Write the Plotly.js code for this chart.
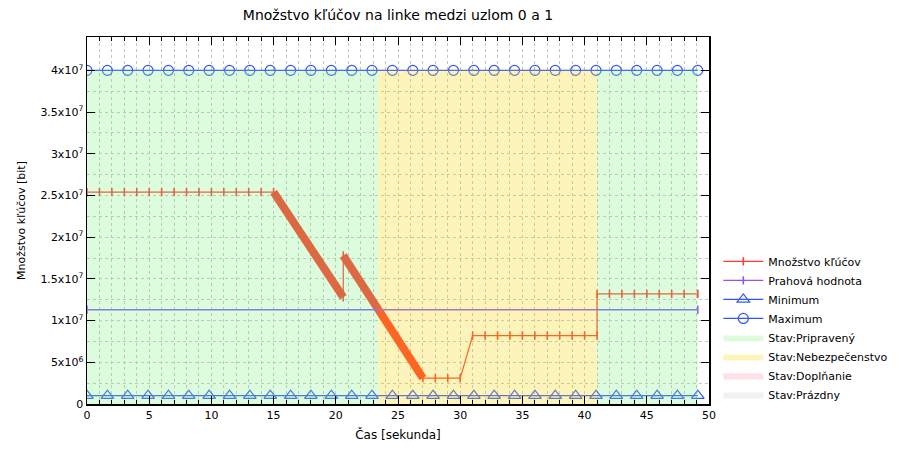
<!DOCTYPE html>
<html>
<head>
<meta charset="utf-8">
<script src="https://cdn.plot.ly/plotly-3.0.1.min.js"></script>
<style>html,body{margin:0;padding:0;background:#fff;}#chart{width:923px;height:455px;}</style>
</head>
<body>
<div id="chart"></div>
<script>
// ---- data ----
const keyTime = [0,1,2,3,4,5,6,7,8,9,10,11,12,13,14,15,20.6,20.6,27,28,29,30,31,32,33,34,35,36,37,38,39,40,41,41,42,43,44,45,46,47,48,49.1];
const keyBits = [25.4e6,25.4e6,25.4e6,25.4e6,25.4e6,25.4e6,25.4e6,25.4e6,25.4e6,25.4e6,25.4e6,25.4e6,25.4e6,25.4e6,25.4e6,25.4e6,12.8e6,17.8e6,3.1e6,3.1e6,3.1e6,3.1e6,8.2e6,8.2e6,8.2e6,8.2e6,8.2e6,8.2e6,8.2e6,8.2e6,8.2e6,8.2e6,8.2e6,13.2e6,13.2e6,13.2e6,13.2e6,13.2e6,13.2e6,13.2e6,13.2e6,13.2e6];
// indices of the fast-consumption runs (drawn thick: densely sampled in the source)
const fastRuns = [[15,16],[17,18]];

const thresholdTime = [0,49.1];
const thresholdBits = [11.3e6,11.3e6];

const limitTime = [0,1.64,3.27,4.91,6.55,8.18,9.82,11.46,13.09,14.73,16.37,18.0,19.64,21.28,22.91,24.55,26.19,27.82,29.46,31.1,32.73,34.37,36.01,37.64,39.28,40.92,42.55,44.19,45.83,47.46,49.1];
const minimumBits = 1.0e6;
const maximumBits = 40e6;

// states: [name, start, end]
const stateNames = ["Stav:Pripravený","Stav:Nebezpečenstvo","Stav:Doplňanie","Stav:Prázdny"];
const stateIntervals = [
  ["Stav:Pripravený",0,23.4],
  ["Stav:Nebezpečenstvo",23.4,41.0],
  ["Stav:Pripravený",41.0,49.1]
];

const yTickVals = [0,5e6,10e6,15e6,20e6,25e6,30e6,35e6,40e6];
const yTickText = ["0","5x10<sup>6</sup>","1x10<sup>7</sup>","1.5x10<sup>7</sup>","2x10<sup>7</sup>","2.5x10<sup>7</sup>","3x10<sup>7</sup>","3.5x10<sup>7</sup>","4x10<sup>7</sup>"];
const yGridMinor = [2.5e6,7.5e6,12.5e6,17.5e6,22.5e6,27.5e6,32.5e6,37.5e6];
const xTickVals = [0,5,10,15,20,25,30,35,40,45,50];

// ---- styles ----
const RED = '#ff3c30', PURPLE = '#8f55ff', BLUE = '#3355ff';
const stateFill = {
  "Stav:Pripravený": 'rgba(120,240,120,0.25)',
  "Stav:Nebezpečenstvo": 'rgba(245,215,0,0.27)',
  "Stav:Doplňanie": 'rgba(250,120,140,0.22)',
  "Stav:Prázdny": 'rgba(190,190,190,0.22)'
};
const FONT = 'DejaVu Sans, Verdana, sans-serif';
const GRID = '#c4c4c4';

const traces = [];
traces.push({
  x: keyTime, y: keyBits, type: 'scatter', mode: 'lines+markers', name: 'Množstvo kľúčov',
  line: {color: RED, width: 1.2},
  marker: {symbol: 'line-ns', size: 6, color: RED, line: {color: RED, width: 1.6}},
  legendrank: 1
});
fastRuns.forEach(r => {
  traces.push({
    x: [keyTime[r[0]], keyTime[r[1]]], y: [keyBits[r[0]], keyBits[r[1]]],
    type: 'scatter', mode: 'lines', showlegend: false, hoverinfo: 'skip',
    line: {color: RED, width: 8}
  });
});
traces.push({
  x: thresholdTime, y: thresholdBits, type: 'scatter', mode: 'lines+markers', name: 'Prahová hodnota',
  line: {color: PURPLE, width: 1.3},
  marker: {symbol: 'line-ns', size: 6, color: PURPLE, line: {color: PURPLE, width: 1.6}},
  legendrank: 2
});
traces.push({
  x: limitTime, y: limitTime.map(() => minimumBits), type: 'scatter', mode: 'lines+markers', name: 'Minimum',
  line: {color: BLUE, width: 1.2},
  marker: {symbol: 'triangle-up-open', size: 11, color: BLUE, line: {color: BLUE, width: 1.2}},
  legendrank: 3
});
traces.push({
  x: limitTime, y: limitTime.map(() => maximumBits), type: 'scatter', mode: 'lines+markers', name: 'Maximum',
  line: {color: BLUE, width: 1.2},
  marker: {symbol: 'circle-open', size: 10, color: BLUE, line: {color: BLUE, width: 1.2}},
  legendrank: 4
});
stateNames.forEach((nm, i) => {
  const ivs = stateIntervals.filter(s => s[0] === nm);
  const xs = [], ys = [];
  ivs.forEach((s, k) => {
    if (k > 0) { xs.push(null); ys.push(null); }
    xs.push(s[1], s[2], s[2], s[1], s[1]);
    ys.push(0, 0, maximumBits, maximumBits, 0);
  });
  if (!xs.length) { xs.push(0, 0, 0); ys.push(0, 0, 0); }
  traces.push({
    x: xs, y: ys, type: 'scatter', mode: 'lines', fill: 'toself', name: nm,
    fillcolor: stateFill[nm], line: {width: 0, color: 'rgba(0,0,0,0)'},
    hoverinfo: 'skip', legendrank: 5 + i
  });
});

const layout = {
  width: 923, height: 455,
  margin: {l: 87, r: 214, t: 37, b: 51},
  paper_bgcolor: '#fff', plot_bgcolor: '#fff',
  font: {family: FONT, size: 11, color: '#000'},
  title: {text: 'Množstvo kľúčov na linke medzi uzlom 0 a 1', font: {family: FONT, size: 14, color: '#000'},
          xref: 'paper', x: 0.5, xanchor: 'center', yref: 'container', y: 0.966, yanchor: 'middle'},
  showlegend: true,
  legend: {x: 1.015, xanchor: 'left', y: 0.428, yanchor: 'top', bgcolor: 'rgba(0,0,0,0)',
           font: {family: FONT, size: 11}, tracegroupgap: 0, itemwidth: 40},
  xaxis: {
    range: [0, 50], tickvals: xTickVals, ticktext: xTickVals.map(String),
    ticks: 'inside', ticklen: 8, tickcolor: '#000', tickwidth: 1,
    showline: true, linecolor: '#000', linewidth: 1.5, mirror: 'allticks',
    showgrid: true, gridcolor: GRID, griddash: 'dot', gridwidth: 1, zeroline: false,
    minor: {dtick: 1, tick0: 0, ticks: 'inside', ticklen: 4, tickcolor: '#000', showgrid: true, gridcolor: GRID, griddash: 'dot'},
    title: {text: 'Čas [sekunda]', font: {family: FONT, size: 12}, standoff: 10},
    tickfont: {family: FONT, size: 11}, automargin: false
  },
  yaxis: {
    range: [0, 44e6], tickvals: yTickVals, ticktext: yTickText,
    ticks: 'inside', ticklen: 8, tickcolor: '#000', tickwidth: 1,
    showline: true, linecolor: '#000', linewidth: 1.5, mirror: 'allticks',
    showgrid: true, gridcolor: GRID, griddash: 'dot', gridwidth: 1, zeroline: false,
    minor: {tickmode: 'array', tickvals: yGridMinor, ticks: '', showgrid: true, gridcolor: GRID, griddash: 'dot'},
    title: {text: 'Množstvo kľúčov [bit]', font: {family: FONT, size: 11}, standoff: 12},
    tickfont: {family: FONT, size: 11}, automargin: false
  }
};

Plotly.newPlot('chart', traces, layout, {displayModeBar: false, staticPlot: true});
</script>
</body>
</html>
